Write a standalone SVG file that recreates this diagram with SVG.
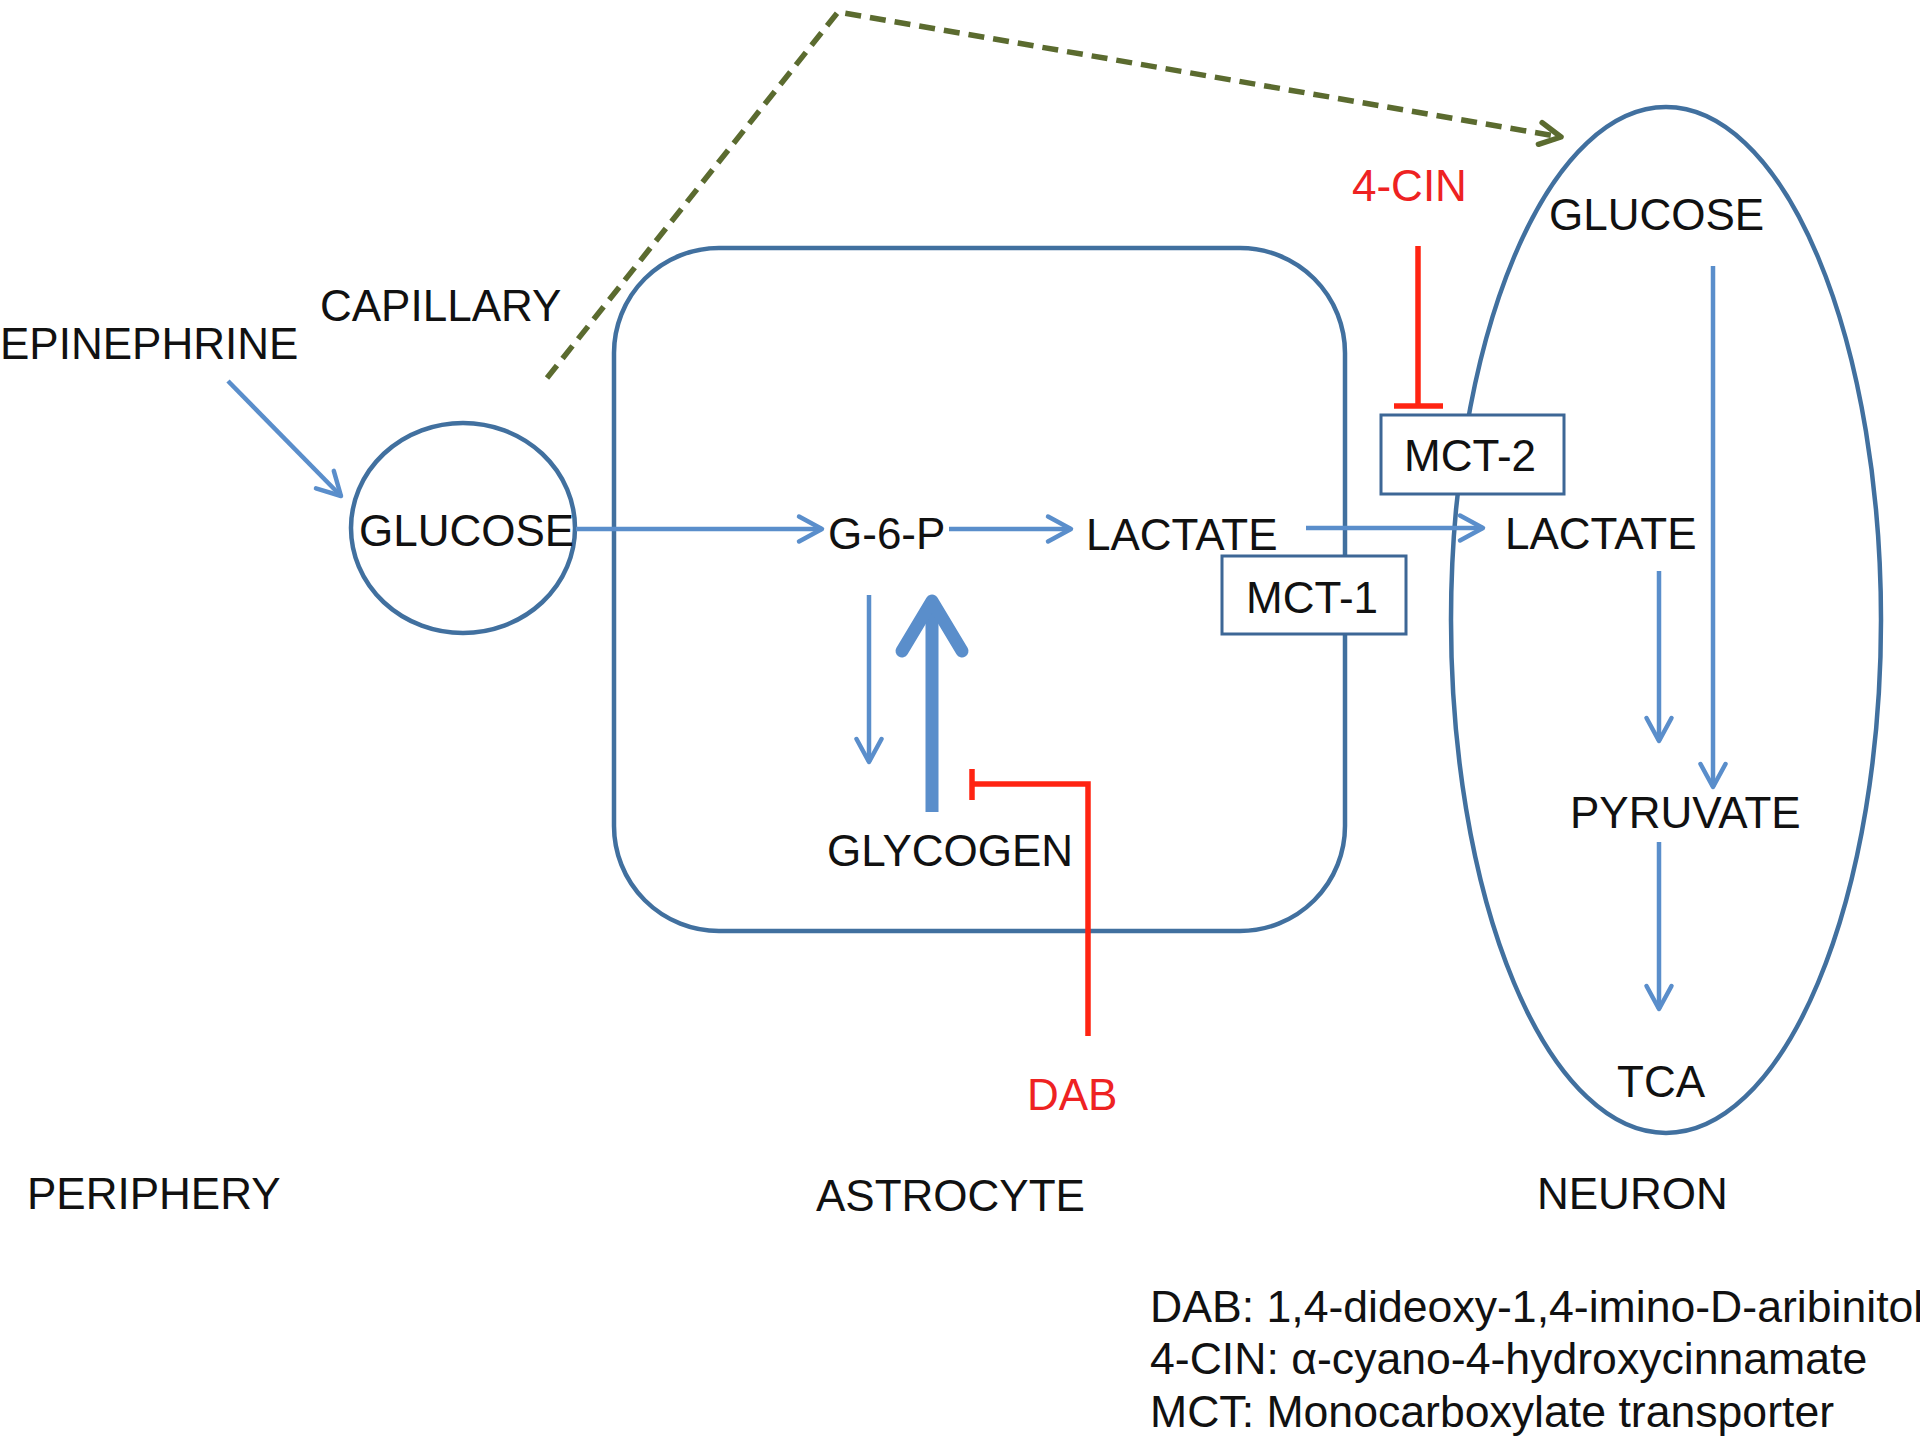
<svg xmlns="http://www.w3.org/2000/svg" width="1920" height="1439" viewBox="0 0 1920 1439">
<defs>
<style>
text{font-family:"Liberation Sans",Arial,sans-serif;font-size:44px;fill:#111}
.red{fill:#ee2222}
.leg{font-size:44.6px}
.shape{fill:none;stroke:#41709f;stroke-width:4.5}
.box{fill:#fff;stroke:#3d6796;stroke-width:3}
.arr{fill:none;stroke:#5a8ecb;stroke-width:4.5;marker-end:url(#ah)}
.inh{fill:none;stroke:#ff2412;stroke-width:5.5}
</style>
<marker id="ah" markerUnits="userSpaceOnUse" viewBox="-30 -18 36 36" markerWidth="36" markerHeight="36" refX="0" refY="0" orient="auto">
<path d="M-23,-12.5 L0,0 L-23,12.5" fill="none" stroke="#5a8ecb" stroke-width="4.5" stroke-linecap="round" stroke-linejoin="round"/>
</marker>
<marker id="ahg" markerUnits="userSpaceOnUse" viewBox="-30 -18 36 36" markerWidth="36" markerHeight="36" refX="0" refY="0" orient="auto">
<path d="M-21,-11 L0,0 L-21,11" fill="none" stroke="#5b6b2f" stroke-width="5.5" stroke-linecap="round" stroke-linejoin="round"/>
</marker>
</defs>
<rect width="1920" height="1439" fill="#fff"/>

<g id="astrocyte"><rect class="shape" x="614" y="248" width="731" height="683" rx="105" ry="105"/></g>
<g id="neuron"><ellipse class="shape" cx="1666" cy="620" rx="215" ry="513"/></g>
<g id="glucose-periphery"><ellipse class="shape" cx="463" cy="528" rx="112" ry="105"/><text x="359" y="546">GLUCOSE</text></g>

<g id="connectors">
<line class="arr" x1="228" y1="381" x2="341" y2="496"/>
<line class="arr" x1="576" y1="529" x2="822" y2="529"/>
<line class="arr" x1="949" y1="529" x2="1071" y2="529"/>
<line class="arr" x1="1306" y1="528" x2="1483" y2="528"/>
<line class="arr" x1="869" y1="595" x2="869" y2="762"/>
<line x1="932" y1="812" x2="932" y2="610" stroke="#5a8ecb" stroke-width="13"/>
<polyline points="902,651 932,601 962,651" fill="none" stroke="#5a8ecb" stroke-width="13" stroke-linecap="round" stroke-linejoin="round"/>
<line class="arr" x1="1713" y1="266" x2="1713" y2="787"/>
<line class="arr" x1="1659" y1="571" x2="1659" y2="741"/>
<line class="arr" x1="1659" y1="842" x2="1659" y2="1009"/>
<polyline points="547,378 838,12 1561,137" fill="none" stroke="#5b6b2f" stroke-width="5.5" stroke-dasharray="16 9" marker-end="url(#ahg)"/>
<line class="inh" x1="1418" y1="246" x2="1418" y2="406"/>
<line class="inh" x1="1394" y1="406" x2="1443" y2="406"/>
<polyline class="inh" points="1088,1036 1088,784 972,784"/>
<line class="inh" x1="972" y1="769" x2="972" y2="800"/>
</g>

<g id="mct1"><rect class="box" x="1222" y="556" width="184" height="78"/><text x="1246" y="613">MCT-1</text></g>
<g id="mct2"><rect class="box" x="1381" y="415" width="183" height="79"/><text x="1404" y="471">MCT-2</text></g>

<g id="labels">
<text x="0" y="359">EPINEPHRINE</text>
<text x="320" y="321">CAPILLARY</text>
<text x="828" y="549">G-6-P</text>
<text x="1086" y="550">LACTATE</text>
<text x="1505" y="549">LACTATE</text>
<text x="1549" y="230">GLUCOSE</text>
<text class="red" x="1352" y="201">4-CIN</text>
<text x="827" y="866">GLYCOGEN</text>
<text class="red" x="1027" y="1110">DAB</text>
<text x="1570" y="828">PYRUVATE</text>
<text x="1617" y="1097">TCA</text>
<text x="27" y="1209">PERIPHERY</text>
<text x="816" y="1211">ASTROCYTE</text>
<text x="1537" y="1209">NEURON</text>
</g>
<g id="legend">
<text class="leg" x="1150" y="1322">DAB: 1,4-dideoxy-1,4-imino-D-aribinitol</text>
<text class="leg" x="1150" y="1374">4-CIN: α-cyano-4-hydroxycinnamate</text>
<text class="leg" x="1150" y="1427">MCT: Monocarboxylate transporter</text>
</g>
</svg>
